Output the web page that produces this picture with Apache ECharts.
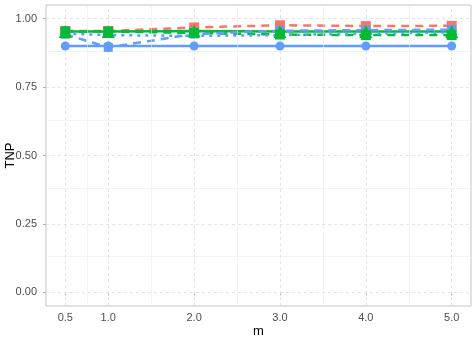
<!DOCTYPE html>
<html>
<head>
<meta charset="utf-8">
<script src="https://cdn.jsdelivr.net/npm/echarts@6/dist/echarts.min.js"></script>
<style>html,body{margin:0;padding:0;background:#fff;}#c{width:476px;height:340px;}</style>
</head>
<body>
<div id="c"></div>
<script>
const mValues = [0.5, 1.0, 2.0, 3.0, 4.0, 5.0];
const xTicks = [0.5, 1.0, 2.0, 3.0, 4.0, 5.0];
const xMinor = [0.75, 1.5, 2.5, 3.5, 4.5];
const yTicks = [0, 0.25, 0.5, 0.75, 1.0];
const yMinor = [0.125, 0.375, 0.625, 0.875];

const redDashed   = [0.955, 0.955, 0.968, 0.976, 0.973, 0.974];
const greenSolid  = [0.953, 0.953, 0.955, 0.953, 0.953, 0.953];
const greenDashed = [0.953, 0.953, 0.948, 0.942, 0.940, 0.940];
const blueDashed  = [0.943, 0.895, 0.944, 0.956, 0.958, 0.960];
const blueDotted  = [0.945, 0.940, 0.937, 0.940, 0.945, 0.950];
const blueSolid   = [0.900, 0.900, 0.900, 0.900, 0.900, 0.900];

const RED = '#F8766D', GREEN = '#00BA38', BLUE = '#619CFF';
const pairs = arr => mValues.map((m, i) => [m, arr[i]]);

function lineSeries(arr, color, dash, z) {
  return {
    type: 'line', data: pairs(arr), showSymbol: false, symbol: 'none', z: z,
    lineStyle: { color: color, width: 2.5, type: dash }, animation: false, silent: true
  };
}
function pointSeries(arr, color, symbol, size, z) {
  return {
    type: 'scatter', data: pairs(arr), symbol: symbol, symbolSize: size, z: z,
    itemStyle: { color: color, opacity: 1 }, animation: false, silent: true
  };
}

const gridLines = [];
xTicks.forEach(v => gridLines.push({ xAxis: v, lineStyle: { color: '#DDDDDD', type: [3, 3], width: 0.8 } }));
xMinor.forEach(v => gridLines.push({ xAxis: v, lineStyle: { color: '#EBEBEB', type: 'solid', width: 0.6 } }));
yTicks.forEach(v => gridLines.push({ yAxis: v, lineStyle: { color: '#DDDDDD', type: [3, 3], width: 0.8 } }));
yMinor.forEach(v => gridLines.push({ yAxis: v, lineStyle: { color: '#EBEBEB', type: 'solid', width: 0.6 } }));

const chart = echarts.init(document.getElementById('c'), null, { renderer: 'canvas' });
chart.setOption({
  backgroundColor: '#ffffff',
  animation: false,
  textStyle: { fontFamily: 'Liberation Sans' },
  grid: { left: 46, right: 5, top: 5, bottom: 34, containLabel: false, outerBoundsMode: 'none',
          show: true, borderColor: '#C4C4C4', borderWidth: 1, backgroundColor: 'transparent' },
  xAxis: {
    type: 'value', min: 0.275, max: 5.225,
    name: 'm', nameLocation: 'middle', nameGap: 19, nameMoveOverlap: false,
    nameTextStyle: { color: '#000', fontSize: 13, fontFamily: 'Liberation Sans' },
    axisLine: { show: false }, splitLine: { show: false },
    axisTick: { show: true, length: 3, customValues: xTicks, lineStyle: { color: '#B3B3B3' } },
    axisLabel: { customValues: xTicks, color: '#4D4D4D', fontSize: 11, margin: 6, formatter: v => v.toFixed(1) }
  },
  yAxis: {
    type: 'value', min: -0.05, max: 1.05,
    name: 'TNP', nameLocation: 'middle', nameGap: 29, nameMoveOverlap: false,
    nameTextStyle: { color: '#000', fontSize: 13, fontFamily: 'Liberation Sans' },
    axisLine: { show: false }, splitLine: { show: false },
    axisTick: { show: true, length: 3, customValues: yTicks, lineStyle: { color: '#B3B3B3' } },
    axisLabel: { customValues: yTicks, color: '#4D4D4D', fontSize: 11, margin: 9, formatter: v => v.toFixed(2) }
  },
  series: [
    { type: 'line', data: [], z: 1, silent: true,
      markLine: { silent: true, symbol: 'none', label: { show: false }, animation: false, data: gridLines } },
    lineSeries(redDashed, RED, [8, 6], 3),
    lineSeries(greenSolid, GREEN, 'solid', 3),
    lineSeries(greenDashed, GREEN, [8, 6], 3),
    lineSeries(blueSolid, BLUE, 'solid', 3),
    lineSeries(blueDashed, BLUE, [8, 6], 3),
    lineSeries(blueDotted, BLUE, [3, 5], 3),
    pointSeries(redDashed, RED, 'rect', 10, 5),
    pointSeries(blueSolid, BLUE, 'circle', 9, 5),
    pointSeries(blueDashed, BLUE, 'rect', 9, 5),
    pointSeries(greenDashed, GREEN, 'rect', 10, 6),
    pointSeries(greenSolid, GREEN, 'triangle', 13, 7)
  ]
});
</script>
</body>
</html>
